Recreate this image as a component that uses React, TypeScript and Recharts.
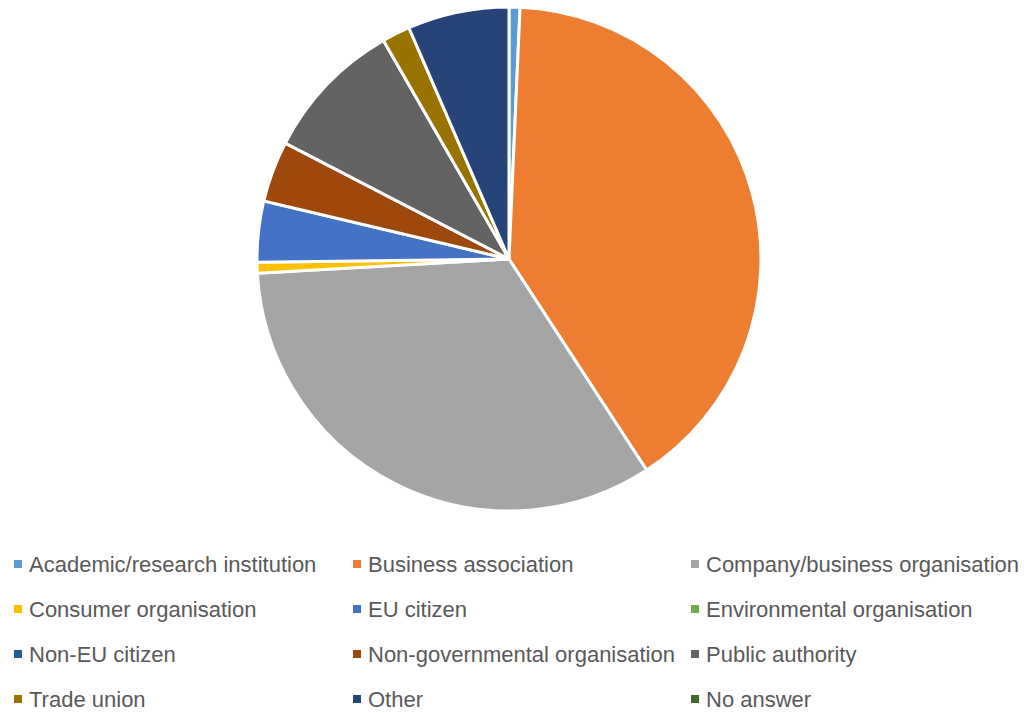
import React from "react";
import { PieChart, Pie, Cell, Legend } from "recharts";

const categories = [
  "Academic/research institution",
  "Business association",
  "Company/business organisation",
  "Consumer organisation",
  "EU citizen",
  "Environmental organisation",
  "Non-EU citizen",
  "Non-governmental organisation",
  "Public authority",
  "Trade union",
  "Other",
  "No answer",
];
const values = [0.7, 40.1, 33.3, 0.7, 3.9, 0, 0, 3.9, 9.1, 1.8, 6.5, 0];
const colors = [
  "#5B9BD5", "#ED7D31", "#A5A5A5", "#FFC000", "#4472C4", "#70AD47",
  "#255E91", "#9E480E", "#636363", "#997300", "#264478", "#43682B",
];

const data = categories.map((name, i) => ({ name, value: values[i] }));

const colX = [14, 353, 691];
const rowY = [564, 609, 654, 699];

const LegendContent = () => (
  <svg width={1024} height={713} style={{ position: "absolute", left: 0, top: 0 }}>
    {categories.map((c, i) => {
      const col = i % 3;
      const row = Math.floor(i / 3);
      const x = colX[col];
      const y = rowY[row];
      return (
        <g key={c}>
          <rect x={x} y={y - 4} width={8} height={8} fill={colors[i]} />
          <text
            x={x + 15}
            y={y}
            dominantBaseline="central"
            fontFamily="Liberation Sans, Arial, sans-serif"
            fontSize={22}
            fill="#595959"
          >
            {c}
          </text>
        </g>
      );
    })}
  </svg>
);

export default function App() {
  return (
    <div style={{ position: "absolute", left: 0, top: 0, width: 1024, height: 713, background: "#fff" }}>
      <PieChart width={1024} height={713} margin={{ top: 0, right: 0, bottom: 0, left: 0 }}>
        <Pie
          data={data}
          dataKey="value"
          nameKey="name"
          cx={509}
          cy={259}
          outerRadius={252}
          startAngle={90}
          endAngle={-270}
          stroke="#ffffff"
          strokeWidth={3}
          isAnimationActive={false}
        >
          {data.map((d, i) => (
            <Cell key={d.name} fill={colors[i]} />
          ))}
        </Pie>
        <Legend content={<LegendContent />} wrapperStyle={{ position: "absolute", left: 0, top: 0, width: 1024, height: 713 }} />
      </PieChart>
    </div>
  );
}
